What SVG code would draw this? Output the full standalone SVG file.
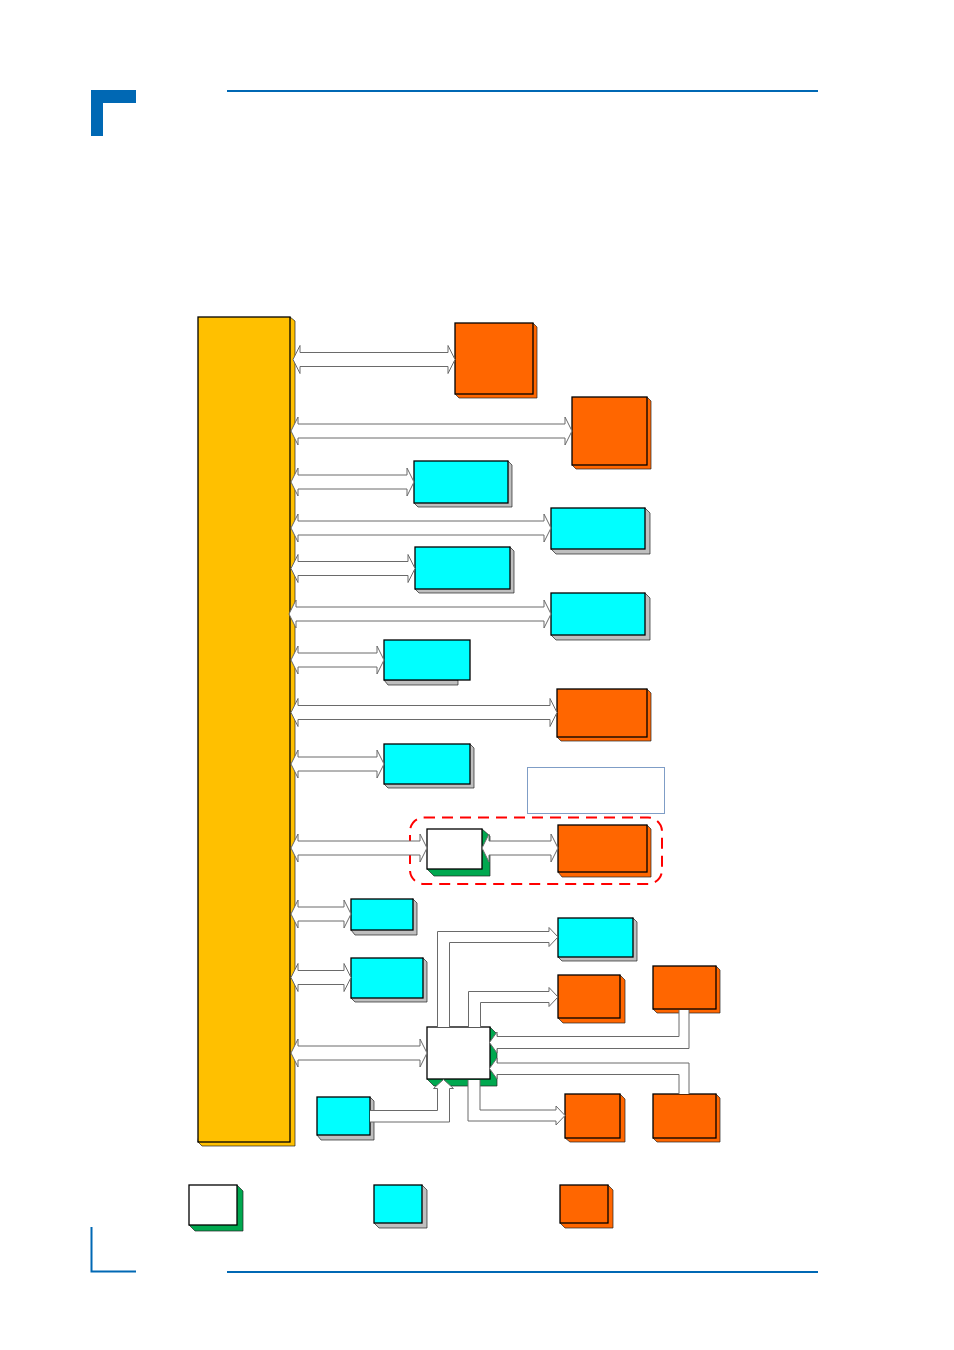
<svg xmlns="http://www.w3.org/2000/svg" width="954" height="1350" viewBox="0 0 954 1350">
<style>
.hdr{fill:#0068B4}
.hl{stroke:#0068B4;stroke-width:2;fill:none}
.front{stroke:#000;stroke-width:1.3}
.side{stroke:#222;stroke-width:0.7}
.org{fill:#FF6600}
.cyn{fill:#00FFFF}
.wht{fill:#FFFFFF}
.gry{fill:#BFBFBF}
.grn{fill:#00A84F}
.yel{fill:#FFC000}
.arr{fill:#FFFFFF;stroke:#6A6A6A;stroke-width:1}
</style>
<rect width="954" height="1350" fill="#FFFFFF"/>
<g id="header">
<rect class="hdr" x="91" y="90" width="45" height="13"/>
<rect class="hdr" x="91" y="90" width="12" height="46"/>
<line class="hl" x1="227" y1="91" x2="818" y2="91"/>
</g>
<g id="footer">
<polyline class="hl" points="91.5,1227 91.5,1271.5 136,1271.5"/>
<line class="hl" x1="227" y1="1272" x2="818" y2="1272"/>
</g>
<g id="bus">
<path class="side yel" d="M290,317 L295,321 L295,1146 L202,1146 L198,1142 Z" stroke="#8a6a00"/>
<rect class="front yel" x="198" y="317" width="92" height="825"/>
</g>
<g id="n1"><path class="side org" d="M533,323 L537,327 L537,398 L459,398 L455,394 Z"/><rect class="front org" x="455" y="323" width="78" height="71"/></g>
<g id="n2"><path class="side org" d="M647,397 L651,401 L651,469 L576,469 L572,465 Z"/><rect class="front org" x="572" y="397" width="75" height="68"/></g>
<g id="n3"><path class="side gry" d="M508,461 L512,465 L512,507 L418,507 L414,503 Z"/><rect class="front cyn" x="414" y="461" width="94" height="42"/></g>
<g id="n4"><path class="side gry" d="M645,508 L650,513 L650,554 L556,554 L551,549 Z"/><rect class="front cyn" x="551" y="508" width="94" height="41"/></g>
<g id="n5"><path class="side gry" d="M510,547 L514,551 L514,593 L419,593 L415,589 Z"/><rect class="front cyn" x="415" y="547" width="95" height="42"/></g>
<g id="n6"><path class="side gry" d="M645,593 L650,598 L650,640 L556,640 L551,635 Z"/><rect class="front cyn" x="551" y="593" width="94" height="42"/></g>
<g id="n7"><path class="side gry" d="M384,680 L388,685 L458,685 L458,680 Z"/><rect class="front cyn" x="384" y="640" width="86" height="40"/></g>
<g id="n8"><path class="side org" d="M647,689 L651,693 L651,741 L561,741 L557,737 Z"/><rect class="front org" x="557" y="689" width="90" height="48"/></g>
<g id="n9"><path class="side gry" d="M470,744 L474,748 L474,788 L388,788 L384,784 Z"/><rect class="front cyn" x="384" y="744" width="86" height="40"/></g>
<g id="n10"><rect x="527.5" y="767.5" width="137" height="46" fill="#FFFFFF" stroke="#7F9DC6" stroke-width="1"/></g>
<g id="group-highlight"><rect x="410" y="817.5" width="252" height="66.5" rx="14" ry="14" fill="none" stroke="#FF0000" stroke-width="2" stroke-dasharray="11,7"/></g>
<g id="n12"><path class="side grn" d="M482,829 L490,836 L490,876 L434,876 L427,869 Z"/><rect class="front wht" x="427" y="829" width="55" height="40"/></g>
<g id="n13"><path class="side org" d="M647,825 L651,829 L651,877 L562,877 L558,872 Z"/><rect class="front org" x="558" y="825" width="89" height="47"/></g>
<g id="n14"><path class="side gry" d="M413,899 L417,903 L417,935 L355,935 L351,930 Z"/><rect class="front cyn" x="351" y="899" width="62" height="31"/></g>
<g id="n15"><path class="side gry" d="M423,958 L427,962 L427,1002 L355,1002 L351,998 Z"/><rect class="front cyn" x="351" y="958" width="72" height="40"/></g>
<g id="n16"><path class="side gry" d="M633,918 L637,922 L637,961 L562,961 L558,957 Z"/><rect class="front cyn" x="558" y="918" width="75" height="39"/></g>
<g id="n17"><path class="side org" d="M620,975 L625,980 L625,1023 L563,1023 L558,1018 Z"/><rect class="front org" x="558" y="975" width="62" height="43"/></g>
<g id="n18"><path class="side org" d="M716,966 L720,970 L720,1013 L657,1013 L653,1009 Z"/><rect class="front org" x="653" y="966" width="63" height="43"/></g>
<g id="n19"><path class="side grn" d="M490,1027 L497,1034 L497,1086 L434,1086 L427,1079 Z"/><rect class="front wht" x="427" y="1027" width="63" height="52"/></g>
<g id="n20"><path class="side gry" d="M370,1097 L374,1101 L374,1140 L321,1140 L317,1135 Z"/><rect class="front cyn" x="317" y="1097" width="53" height="38"/></g>
<g id="n21"><path class="side org" d="M620,1094 L625,1099 L625,1142 L570,1142 L565,1138 Z"/><rect class="front org" x="565" y="1094" width="55" height="44"/></g>
<g id="n22"><path class="side org" d="M716,1094 L720,1098 L720,1142 L657,1142 L653,1138 Z"/><rect class="front org" x="653" y="1094" width="63" height="44"/></g>
<g id="legend-white"><path class="side grn" d="M237,1185 L243,1191 L243,1231 L195,1231 L189,1225 Z"/><rect class="front wht" x="189" y="1185" width="48" height="40"/></g>
<g id="legend-cyan"><path class="side gry" d="M422,1185 L427,1190 L427,1228 L379,1228 L374,1223 Z"/><rect class="front cyn" x="374" y="1185" width="48" height="38"/></g>
<g id="legend-orange"><path class="side org" d="M608,1185 L613,1190 L613,1228 L565,1228 L560,1223 Z"/><rect class="front org" x="560" y="1185" width="48" height="38"/></g>
<g id="connectors">
<path class="arr" d="M293,359.5 L300,345.5 L300,352.5 L448,352.5 L448,345.5 L455,359.5 L448,373.5 L448,366.5 L300,366.5 L300,373.5 Z"/>
<path class="arr" d="M291,431 L298,417 L298,424 L565,424 L565,417 L572,431 L565,445 L565,438 L298,438 L298,445 Z"/>
<path class="arr" d="M291,482 L298,468 L298,475 L407,475 L407,468 L414,482 L407,496 L407,489 L298,489 L298,496 Z"/>
<path class="arr" d="M291,528 L298,514 L298,521 L544,521 L544,514 L551,528 L544,542 L544,535 L298,535 L298,542 Z"/>
<path class="arr" d="M291,568.5 L298,554.5 L298,561.5 L408,561.5 L408,554.5 L415,568.5 L408,582.5 L408,575.5 L298,575.5 L298,582.5 Z"/>
<path class="arr" d="M289,614 L296,600 L296,607 L544,607 L544,600 L551,614 L544,628 L544,621 L296,621 L296,628 Z"/>
<path class="arr" d="M291,660 L298,646 L298,653 L377,653 L377,646 L384,660 L377,674 L377,667 L298,667 L298,674 Z"/>
<path class="arr" d="M291,712.5 L298,698.5 L298,705.5 L550,705.5 L550,698.5 L557,712.5 L550,726.5 L550,719.5 L298,719.5 L298,726.5 Z"/>
<path class="arr" d="M291,764 L298,750 L298,757 L377,757 L377,750 L384,764 L377,778 L377,771 L298,771 L298,778 Z"/>
<path class="arr" d="M291,848 L298,834 L298,841 L420,841 L420,834 L427,848 L420,862 L420,855 L298,855 L298,862 Z"/>
<path class="arr" d="M482,848 L489,834 L489,841 L551,841 L551,834 L558,848 L551,862 L551,855 L489,855 L489,862 Z"/>
<path class="arr" d="M291,914 L298,900 L298,907 L344,907 L344,900 L351,914 L344,928 L344,921 L298,921 L298,928 Z"/>
<path class="arr" d="M291,977.5 L298,963.5 L298,970.5 L344,970.5 L344,963.5 L351,977.5 L344,991.5 L344,984.5 L298,984.5 L298,991.5 Z"/>
<path class="arr" d="M291,1053 L298,1039 L298,1046 L420,1046 L420,1039 L427,1053 L420,1067 L420,1060 L298,1060 L298,1067 Z"/>
<path class="arr" d="M437.5,1027 L437.5,931.5 L549,931.5 L549,927.5 L558,937 L549,946.5 L549,942.5 L449.5,942.5 L449.5,1027"/>
<path class="arr" d="M468.5,1027 L468.5,991.5 L549,991.5 L549,987.5 L558,997 L549,1006.5 L549,1002.5 L480.5,1002.5 L480.5,1027"/>
<path class="arr" d="M679,1010 L679,1036.5 L497,1036.5 L497,1032 L489.5,1042.5 L497,1053 L497,1048.5 L689,1048.5 L689,1010"/>
<path class="arr" d="M679,1094 L679,1074.5 L497,1074.5 L497,1079 L489.5,1068.5 L497,1058 L497,1063 L689,1063 L689,1094"/>
<path class="arr" d="M468,1080 L468,1121 L556,1121 L556,1125 L565,1115.5 L556,1106 L556,1110 L480,1110 L480,1080"/>
<path class="arr" d="M370,1110.5 L437.5,1110.5 L437.5,1088.5 L433.5,1088.5 L443.5,1079.5 L453.5,1088.5 L449.5,1088.5 L449.5,1122 L370,1122"/>
</g>
</svg>
